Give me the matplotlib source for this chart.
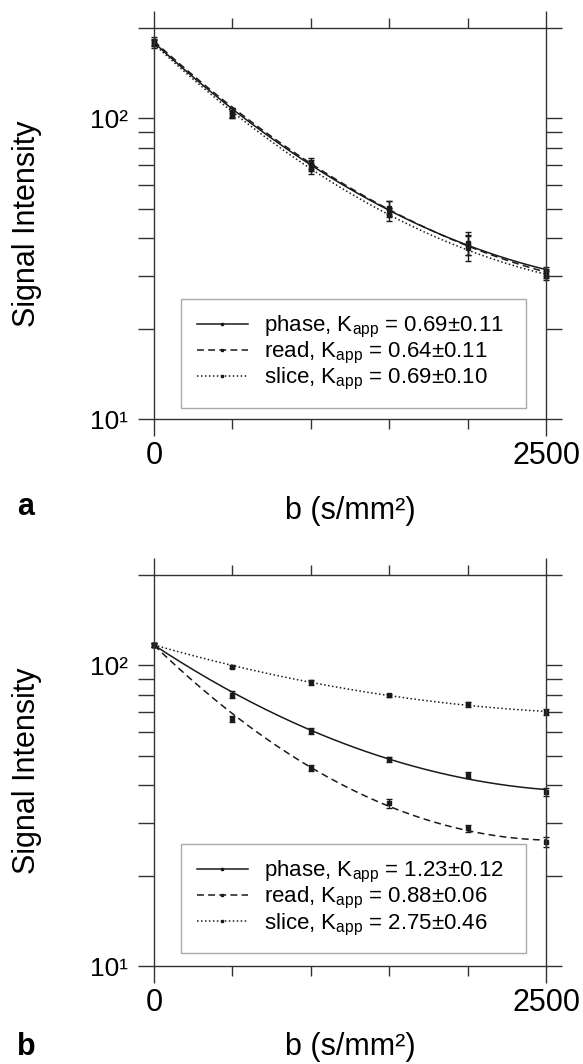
import matplotlib
matplotlib.use('Agg')
import matplotlib.pyplot as plt
from matplotlib.lines import Line2D
from matplotlib.ticker import FixedLocator, LogLocator, NullFormatter
import numpy as np

plt.rcParams['font.family'] = ['Liberation Sans', 'DejaVu Sans']
plt.rcParams['mathtext.fontset'] = 'custom'
plt.rcParams['mathtext.rm'] = 'Liberation Sans'
plt.rcParams['mathtext.it'] = 'Liberation Sans'

# b values (s/mm2)
b_values = [0, 500, 1000, 1500, 2000, 2500]
series_names = ['phase', 'read', 'slice']

# panel a
a_phase = [179, 104, 70, 50, 38.5, 31]
a_read = [181, 105, 71, 50.5, 38, 30.5]
a_slice = [177, 103, 68, 48, 37, 30]
a_phase_err = [5, 4, 3, 3, 3.5, 1]
a_read_err = [5, 3.5, 3, 2.5, 3, 1]
a_slice_err = [6, 3, 2.5, 2.5, 3.5, 1]
a_kapp = ['0.69±0.11', '0.64±0.11', '0.69±0.10']

# panel b
b_phase = [117, 80, 60.5, 48.7, 43.2, 38]
b_read = [117, 66.2, 45.5, 34.8, 28.7, 25.8]
b_slice = [117, 99.2, 87.8, 79.5, 74.2, 70]
b_phase_err = [1.5, 2, 1.5, 1, 1, 1.2]
b_read_err = [1.5, 1.5, 1, 1.2, 0.8, 1]
b_slice_err = [1.5, 1.5, 1.5, 1, 1.5, 1.5]
b_kapp = ['1.23±0.12', '0.88±0.06', '2.75±0.46']

ink = '#1a1a1a'
styles = ['-', (0, (4.5, 2.8)), (0, (1, 1.6))]

fig = plt.figure(figsize=(5.83, 10.64), dpi=100)


def panel(rect, series, errs, kapps, legend_y, xlabel_y, letter, letter_y):
    ax = fig.add_axes(rect)
    ax.set_yscale('log')
    ax.set_xlim(0, 2500)
    ax.set_ylim(10, 200)

    bb = np.linspace(0, 2500, 200)
    handles = []
    for vals, err, ls, name, k in zip(series, errs, styles, series_names, kapps):
        w = [4, 1, 1, 1, 1, 1]
        p = np.polyfit(b_values, np.log(vals), 2, w=w)
        ax.plot(bb, np.exp(np.polyval(p, bb)), color=ink, lw=1.1, ls=ls)
        ax.errorbar(b_values, vals, yerr=err, fmt='s', ms=2.5, color=ink,
                    ecolor=ink, elinewidth=1, capsize=2, capthick=1, clip_on=False)
        handles.append(Line2D([], [], color=ink, lw=1.1, ls=ls, marker='s', ms=2))
    labels = [name + r', K$_{\mathrm{app}}$ = ' + k for name, k in zip(series_names, kapps)]

    leg = ax.legend(handles, labels, loc='lower left', mode='expand',
                    bbox_to_anchor=(0.069, legend_y, 0.88, 0.3), borderaxespad=0,
                    fontsize=16, handlelength=2.3, handletextpad=0.75,
                    labelspacing=0.0, borderpad=0.7, fancybox=False, framealpha=1)
    leg.get_frame().set_edgecolor('#aaaaaa')
    leg.get_frame().set_linewidth(1)

    ax.xaxis.set_major_locator(FixedLocator([0, 2500]))
    ax.xaxis.set_minor_locator(FixedLocator([500, 1000, 1500, 2000]))
    ax.set_xticklabels(['0', '2500'])
    ax.yaxis.set_major_locator(FixedLocator([10, 100]))
    ax.yaxis.set_minor_locator(LogLocator(base=10, subs=np.arange(2, 10)))
    ax.yaxis.set_minor_formatter(NullFormatter())
    ax.set_yticklabels(['10¹', '10²'])

    ax.tick_params(which='both', direction='out', top=True, right=True,
                   color='#333333', width=1)
    ax.tick_params(axis='x', which='major', length=12, pad=4, labelsize=22)
    ax.tick_params(axis='x', which='minor', length=7)
    ax.tick_params(axis='y', which='both', length=11.5)
    ax.tick_params(axis='y', which='major', pad=7, labelsize=19)
    for s in ax.spines.values():
        s.set_color('#333333')
        s.set_linewidth(1)

    ax.set_ylabel('Signal Intensity', fontsize=22)
    ax.yaxis.set_label_coords(-0.286, 0.5)
    ax.set_xlabel('b (s/mm²)', fontsize=22)
    ax.xaxis.set_label_coords(0.5, xlabel_y)
    fig.text(0.029, letter_y, letter, fontsize=22, fontweight='bold', va='baseline')
    return ax


panel([0.2642, 0.6062, 0.6724, 0.3675], [a_phase, a_read, a_slice],
      [a_phase_err, a_read_err, a_slice_err], a_kapp, 0.028, -0.197, 'a', 0.516)
panel([0.2642, 0.0921, 0.6724, 0.3675], [b_phase, b_read, b_slice],
      [b_phase_err, b_read_err, b_slice_err], b_kapp, 0.033, -0.17, 'b', 0.008)

fig.savefig('out.png', dpi=100, facecolor='white')
